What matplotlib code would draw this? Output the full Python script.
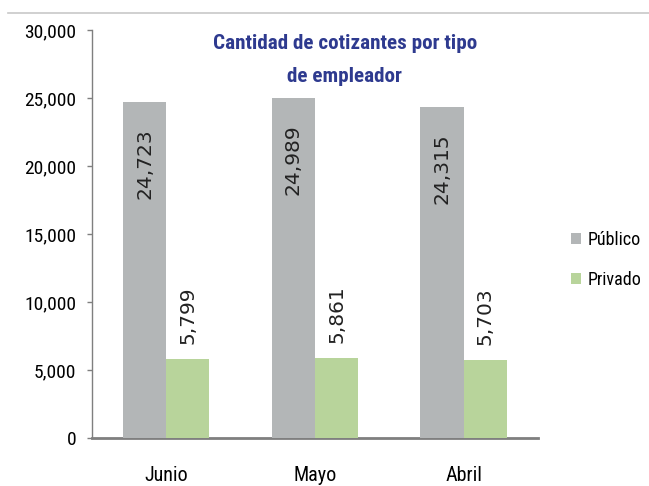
import numpy as np
import matplotlib
matplotlib.use("Agg")
import matplotlib.pyplot as plt
from matplotlib.lines import Line2D

# datos del grafico
meses = ["Junio", "Mayo", "Abril"]
publico = [24723, 24989, 24315]
privado = [5799, 5861, 5703]
series = ["Público", "Privado"]

GRIS = "#B3B6B7"
VERDE = "#B8D49B"
AZUL = "#2E3A8F"
EJE = "#7F7F7F"
NARROW = ["Roboto Condensed", "Sofia Sans Condensed", "DejaVu Sans"]

fig = plt.figure(figsize=(6.49, 4.86), dpi=100)
ax = fig.add_axes([0.1418, 0.0988, 0.687, 0.8395])

x = np.arange(len(meses))
w = 0.29
b1 = ax.bar(x - w / 2, publico, width=w, color=GRIS, label=series[0], zorder=3)
b2 = ax.bar(x + w / 2, privado, width=w, color=VERDE, label=series[1], zorder=3)

# etiquetas verticales
for xi, v in zip(x - w / 2, publico):
    ax.annotate(f"{v:,}", (xi, v), xytext=(0, -19), textcoords="offset points",
                rotation=90, ha="center", va="top", fontsize=14.5, color="#222222",
                family="DejaVu Sans")
for xi, v in zip(x + w / 2, privado):
    ax.annotate(f"{v:,}", (xi, v), xytext=(0, 11), textcoords="offset points",
                rotation=90, ha="center", va="bottom", fontsize=14.5, color="#222222",
                family="DejaVu Sans")

ax.set_xlim(-0.5, 2.5)
ax.set_ylim(0, 30000)
ax.set_yticks(np.arange(0, 30001, 5000))
ax.set_yticklabels([f"{t:,}" for t in range(0, 30001, 5000)], family=NARROW, fontsize=14)
ax.set_xticks(x)
ax.set_xticklabels(meses, family=NARROW, fontsize=14.5)
ax.tick_params(axis="x", length=0, pad=20)
ax.tick_params(axis="y", length=3.5, width=1, color=EJE, pad=8, direction="out")

for s in ("top", "right"):
    ax.spines[s].set_visible(False)
ax.spines["left"].set_color(EJE)
ax.spines["left"].set_linewidth(1)
ax.spines["bottom"].set_color(EJE)
ax.spines["bottom"].set_linewidth(2)

ax.text(0.567, 0.99, "Cantidad de cotizantes por tipo\nde empleador", transform=ax.transAxes,
        ha="center", va="top", fontsize=15.2, fontweight="bold", color=AZUL,
        family=NARROW, linespacing=1.95)

leg = fig.legend(handles=[b1, b2], loc="center left", bbox_to_anchor=(0.866, 0.465),
                 frameon=False, prop={"family": NARROW, "size": 13}, borderpad=0,
                 handlelength=0.55, handleheight=0.55, handletextpad=0.35, labelspacing=1.2)

# linea gris superior
fig.add_artist(Line2D([0.012, 1.0], [0.973, 0.973], color="#C8C8C8", linewidth=1.2))

fig.savefig("out.png", dpi=100)
